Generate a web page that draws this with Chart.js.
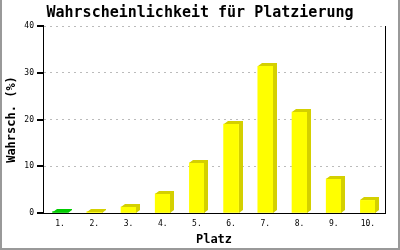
<!DOCTYPE html>
<html>
<head>
<meta charset="utf-8">
<script src="https://cdn.jsdelivr.net/npm/chart.js@4/dist/chart.umd.min.js"></script>
<style>
  html, body { margin: 0; padding: 0; background: #fff; }
  canvas { display: block; }
</style>
</head>
<body>
<canvas id="platzGraph" width="400" height="250"></canvas>
<script>
const places = ['1.', '2.', '3.', '4.', '5.', '6.', '7.', '8.', '9.', '10.'];
const probs = [0.3, 0.3, 1.3, 4.1, 10.7, 19.0, 31.4, 21.6, 7.3, 2.7];
const yMin = 0;
const yMax = 40;
const yStep = 10;

const frontColors = places.map((p, i) => i === 0 ? '#00cc00' : '#ffff00');
const sideColors = places.map((p, i) => i === 0 ? '#00cc00' : '#d4d000');

const DX = 4, DY = 3;
const mono = '"DejaVu Sans Mono", "Liberation Mono", monospace';

// draws top and side faces of each bar, using the bar elements from chart.js
const bars3d = {
  id: 'bars3d',
  afterDatasetsDraw(chart) {
    const ctx = chart.ctx;
    const meta = chart.getDatasetMeta(0);
    meta.data.forEach((bar, i) => {
      const { x, y, width, base } = bar.getProps(['x', 'y', 'width', 'base'], true);
      const l = Math.round(x - width / 2), r = Math.round(x + width / 2);
      const t = Math.round(y), b = Math.round(base);
      ctx.save();
      ctx.fillStyle = sideColors[i];
      ctx.beginPath();
      ctx.moveTo(l, t);
      ctx.lineTo(l + DX, t - DY);
      ctx.lineTo(r + DX, t - DY);
      ctx.lineTo(r + DX, b - DY);
      ctx.lineTo(r, b);
      ctx.lineTo(r, t);
      ctx.closePath();
      ctx.fill();
      ctx.restore();
    });
  },
  afterDraw(chart) {
    const ctx = chart.ctx;
    const ys = chart.scales.y;
    const axisX = Math.round(chart.chartArea.left);
    ctx.save();
    ctx.setLineDash([]);
    // y tick marks, left of the axis
    ctx.fillStyle = '#000';
    ys.ticks.forEach(t => {
      const py = Math.round(ys.getPixelForValue(t.value));
      ctx.fillRect(axisX - 6, py - 1, 7, 2);
    });
    // grey frame
    ctx.fillStyle = '#999';
    ctx.fillRect(0, 0, 2, 250);
    ctx.fillRect(398, 0, 2, 250);
    ctx.fillRect(0, 248, 400, 2);
    ctx.restore();
  }
};

new Chart(document.getElementById('platzGraph').getContext('2d'), {
  type: 'bar',
  data: {
    labels: places,
    datasets: [{
      data: probs,
      backgroundColor: frontColors,
      borderWidth: 0,
      barThickness: 15
    }]
  },
  options: {
    responsive: false,
    animation: false,
    layout: { padding: 0 },
    plugins: {
      legend: { display: false },
      tooltip: { enabled: false },
      title: {
        display: true,
        text: 'Wahrscheinlichkeit für Platzierung',
        color: '#000',
        font: { family: mono, size: 15, weight: 'bold' },
        padding: { top: 4, bottom: 4 }
      }
    },
    scales: {
      x: {
        afterFit(scale) { scale.height = 37; },
        grid: { display: false, drawTicks: false },
        border: { display: true, color: '#000', width: 1 },
        ticks: { color: '#000', font: { family: mono, size: 8 }, padding: 6, maxRotation: 0 },
        title: {
          display: true,
          text: 'Platz',
          color: '#000',
          font: { family: mono, size: 12, weight: 'bold' },
          padding: { top: 0, bottom: 3 }
        }
      },
      y: {
        min: yMin,
        max: yMax,
        afterFit(scale) { scale.width = 43; },
        grid: { color: '#bbb', drawTicks: false },
        border: { display: true, color: '#000', width: 1, dash: [2, 4] },
        ticks: { stepSize: yStep, color: '#000', font: { family: mono, size: 8 }, padding: 9 },
        title: {
          display: true,
          text: 'Wahrsch. (%)',
          color: '#000',
          font: { family: mono, size: 12, weight: 'bold' },
          padding: { top: 5, bottom: 0 }
        }
      },
      yRight: {
        position: 'right',
        min: yMin,
        max: yMax,
        afterFit(scale) { scale.width = 15; },
        grid: { display: false, drawTicks: false },
        border: { display: true, color: '#000', width: 1 },
        ticks: { display: false }
      }
    }
  },
  plugins: [bars3d]
});
</script>
</body>
</html>
